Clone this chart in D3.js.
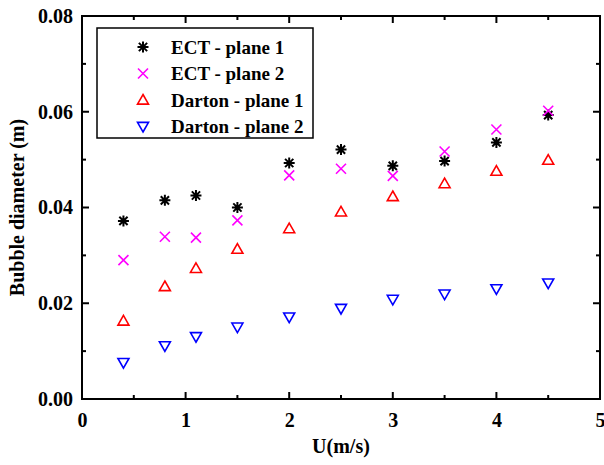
<!DOCTYPE html>
<html>
<head>
<meta charset="utf-8">
<script src="https://cdn.jsdelivr.net/npm/d3@7"></script>
</head>
<body style="margin:0;background:#fff">
<svg id="chart" width="604" height="465"></svg>
<script>
// data
var uValues = [0.4, 0.8, 1.1, 1.5, 2, 2.5, 3, 3.5, 4, 4.5];
var ectPlane1 = [0.0372, 0.0415, 0.0425, 0.0400, 0.0493, 0.0521, 0.0487, 0.0497, 0.0536, 0.0593];
var ectPlane2 = [0.0290, 0.0339, 0.0337, 0.0373, 0.0467, 0.0481, 0.0466, 0.0517, 0.0563, 0.0602];
var dartonPlane1 = [0.0163, 0.0235, 0.0273, 0.0313, 0.0356, 0.0391, 0.0423, 0.0450, 0.0476, 0.0499];
var dartonPlane2 = [0.0076, 0.0111, 0.0130, 0.0150, 0.0171, 0.0189, 0.0208, 0.0219, 0.0230, 0.0242];
var seriesNames = ["ECT - plane 1", "ECT - plane 2", "Darton - plane 1", "Darton - plane 2"];
var xTicks = [0, 1, 2, 3, 4, 5];
var yTicks = [0.00, 0.02, 0.04, 0.06, 0.08];

var series = [
    { name: seriesNames[0], values: ectPlane1, color: "#000000", shape: "star" },
    { name: seriesNames[1], values: ectPlane2, color: "#ff00ff", shape: "cross" },
    { name: seriesNames[2], values: dartonPlane1, color: "#ff0000", shape: "up" },
    { name: seriesNames[3], values: dartonPlane2, color: "#0000ff", shape: "down" }
];

var FONT = "'Liberation Serif'";

var margin = { top: 16, right: 4, bottom: 66, left: 82 },
    width = 604 - margin.left - margin.right,
    height = 465 - margin.top - margin.bottom;

var x = d3.scaleLinear().domain([0, 5]).range([0, width]);
var y = d3.scaleLinear().domain([0, 0.08]).range([height, 0]);

var svg = d3.select("#chart");
var g = svg.append("g")
    .attr("transform", "translate(" + margin.left + "," + margin.top + ")");

// minor ticks (inward)
var xMinor = d3.range(0.5, 5, 1);
var yMinor = d3.range(0.01, 0.08, 0.02);

function tickLines(sel, values, scale, horizontal, len, side) {
    sel.selectAll(null).data(values).enter().append("line")
        .attr("x1", function (d) { return horizontal ? scale(d) : (side ? width : 0); })
        .attr("x2", function (d) { return horizontal ? scale(d) : (side ? width - len : len); })
        .attr("y1", function (d) { return horizontal ? (side ? 0 : height) : scale(d); })
        .attr("y2", function (d) { return horizontal ? (side ? len : height - len) : scale(d); })
        .attr("stroke", "#000")
        .attr("stroke-width", 2);
}
var ticksG = g.append("g");
tickLines(ticksG, xTicks, x, true, 7, false);
tickLines(ticksG, xTicks, x, true, 7, true);
tickLines(ticksG, xMinor, x, true, 4, false);
tickLines(ticksG, xMinor, x, true, 4, true);
tickLines(ticksG, yTicks, y, false, 7, false);
tickLines(ticksG, yTicks, y, false, 7, true);
tickLines(ticksG, yMinor, y, false, 4, false);
tickLines(ticksG, yMinor, y, false, 4, true);

// frame
g.append("rect")
    .attr("width", width).attr("height", height)
    .attr("fill", "none").attr("stroke", "#000").attr("stroke-width", 2);

// tick labels via axes, with lines removed
var xAxis = d3.axisBottom(x).tickValues(xTicks).tickSize(0).tickPadding(14).tickFormat(d3.format("d"));
var yAxis = d3.axisLeft(y).tickValues(yTicks).tickSize(0).tickPadding(9).tickFormat(d3.format(".2f"));

function styleText(sel, size) {
    sel.attr("font-size", size).attr("fill", "#000")
        .style("font-family", FONT).style("font-weight", "bold");
}

g.append("g").attr("transform", "translate(0," + height + ")").call(xAxis)
    .call(function (s) { s.select(".domain").remove(); })
    .selectAll("text").call(styleText, 20);
g.append("g").call(yAxis)
    .call(function (s) { s.select(".domain").remove(); })
    .selectAll("text").call(styleText, 20);

// axis titles
svg.append("text")
    .attr("x", margin.left + width / 2)
    .attr("y", 453)
    .attr("text-anchor", "middle")
    .call(styleText, 20)
    .text("U(m/s)");
svg.append("text")
    .attr("transform", "translate(24," + (margin.top + height / 2) + ") rotate(-90)")
    .attr("text-anchor", "middle")
    .call(styleText, 20)
    .text("Bubble diameter (m)");

// marker drawing
function drawMarker(sel, shape, color) {
    if (shape === "star") {
        var s = 5.5;
        sel.append("path")
            .attr("d", "M" + (-s) + ",0L" + s + ",0M0," + (-s) + "L0," + s +
                "M" + (-s * 0.75) + "," + (-s * 0.75) + "L" + (s * 0.75) + "," + (s * 0.75) +
                "M" + (-s * 0.75) + "," + (s * 0.75) + "L" + (s * 0.75) + "," + (-s * 0.75))
            .attr("stroke", color).attr("stroke-width", 2).attr("fill", "none");
    } else if (shape === "cross") {
        var c = 5;
        sel.append("path")
            .attr("d", "M" + (-c) + "," + (-c) + "L" + c + "," + c + "M" + (-c) + "," + c + "L" + c + "," + (-c))
            .attr("stroke", color).attr("stroke-width", 1.6).attr("fill", "none");
    } else {
        var h = 5.5, w = 5.5;
        var dir = shape === "up" ? 1 : -1;
        sel.append("path")
            .attr("d", "M0," + (-h * dir) + "L" + w + "," + (h * 0.75 * dir) + "L" + (-w) + "," + (h * 0.75 * dir) + "Z")
            .attr("stroke", color).attr("stroke-width", 1.6).attr("fill", "none");
    }
}

series.forEach(function (s) {
    var pts = g.append("g").selectAll("g")
        .data(uValues.map(function (u, i) { return [u, s.values[i]]; }))
        .enter().append("g")
        .attr("transform", function (d) { return "translate(" + x(d[0]) + "," + y(d[1]) + ")"; });
    pts.each(function () { drawMarker(d3.select(this), s.shape, s.color); });
});

// legend
var legend = svg.append("g").attr("transform", "translate(97,28)");
legend.append("rect")
    .attr("width", 216).attr("height", 110)
    .attr("fill", "#fff").attr("stroke", "#000").attr("stroke-width", 1.5);
series.forEach(function (s, i) {
    var row = legend.append("g").attr("transform", "translate(0," + (19 + i * 26.5) + ")");
    var m = row.append("g").attr("transform", "translate(46,0)");
    drawMarker(m, s.shape, s.color);
    row.append("text")
        .attr("x", 74).attr("y", 0).attr("dy", "0.35em")
        .call(styleText, 19)
        .text(s.name);
});
</script>
</body>
</html>
